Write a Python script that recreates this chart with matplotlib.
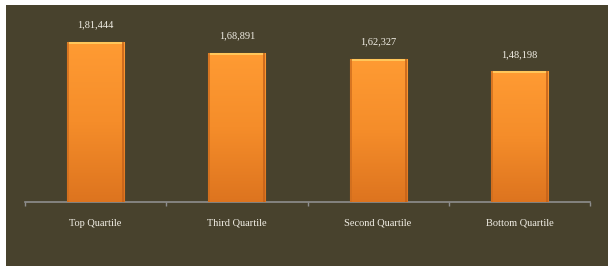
import numpy as np
import matplotlib.pyplot as plt
from matplotlib.patches import Rectangle
from matplotlib.colors import LinearSegmentedColormap

categories = ["Top Quartile", "Third Quartile", "Second Quartile", "Bottom Quartile"]
values = [181444, 168891, 162327, 148198]
value_labels = ["1,81,444", "1,68,891", "1,62,327", "1,48,198"]

BG = "#48422d"
TEXT = "#f2efe6"
AXIS = "#8e8e8e"

plt.rcParams['font.family'] = ['Liberation Serif', 'DejaVu Serif']

fig = plt.figure(figsize=(6.12, 2.71), dpi=100)
fig.patch.set_facecolor("white")
fig.add_artist(Rectangle((6 / 612, 5 / 271), 602 / 612, 261 / 271,
                         transform=fig.transFigure, facecolor=BG,
                         edgecolor="none", zorder=0))

ax = fig.add_axes([25 / 612, 69 / 271, 565 / 612, 192 / 271])
ax.set_facecolor("none")

x = np.arange(len(categories))
width = 0.404
bars = ax.bar(x, values, width=width, color="#f58b25",
              edgecolor="#c8691c", linewidth=0.8, zorder=2)

# vertical orange gradient inside each bar
grad = LinearSegmentedColormap.from_list("g", ["#dd741f", "#f58d2a", "#ff9b33"])
gimg = np.linspace(0, 1, 256).reshape(-1, 1)
for b in bars:
    x0, w, h = b.get_x(), b.get_width(), b.get_height()
    im = ax.imshow(gimg, cmap=grad, aspect="auto", origin="lower",
                   extent=[x0, x0 + w, 0, h], zorder=3)
    im.set_clip_path(b)
    # bevel highlight on top and darker sides
    ax.add_patch(Rectangle((x0, h * 0.985), w, h * 0.015,
                           facecolor="#ffc65a", edgecolor="none", zorder=4))
    ax.add_patch(Rectangle((x0, 0), w * 0.035, h, facecolor="#d06e1e",
                           edgecolor="none", zorder=4, alpha=0.8))
    ax.add_patch(Rectangle((x0 + w * 0.965, 0), w * 0.035, h,
                           facecolor="#c4621a", edgecolor="none", zorder=4,
                           alpha=0.8))

for xi, v, lab in zip(x, values, value_labels):
    ax.annotate(lab, (xi, v), xytext=(0, 9), textcoords="offset points",
                ha="center", va="bottom", color=TEXT, fontsize=7.5)

ax.set_xlim(-0.5, len(categories) - 0.5)
ax.set_ylim(0, 181444 * 192 / 160)

for side in ["top", "right", "left"]:
    ax.spines[side].set_visible(False)
ax.spines["bottom"].set_color(AXIS)
ax.spines["bottom"].set_linewidth(1.2)
ax.set_yticks([])

ax.set_xticks(x)
ax.set_xticklabels(categories, color=TEXT, fontsize=7.5)
ax.tick_params(axis="x", which="major", length=0, pad=12)
ax.set_xticks(np.arange(-0.5, len(categories)), minor=True)
ax.tick_params(axis="x", which="minor", length=3, width=1, color=AXIS,
               direction="out")

fig.savefig("out.png", dpi=100, facecolor="white")
